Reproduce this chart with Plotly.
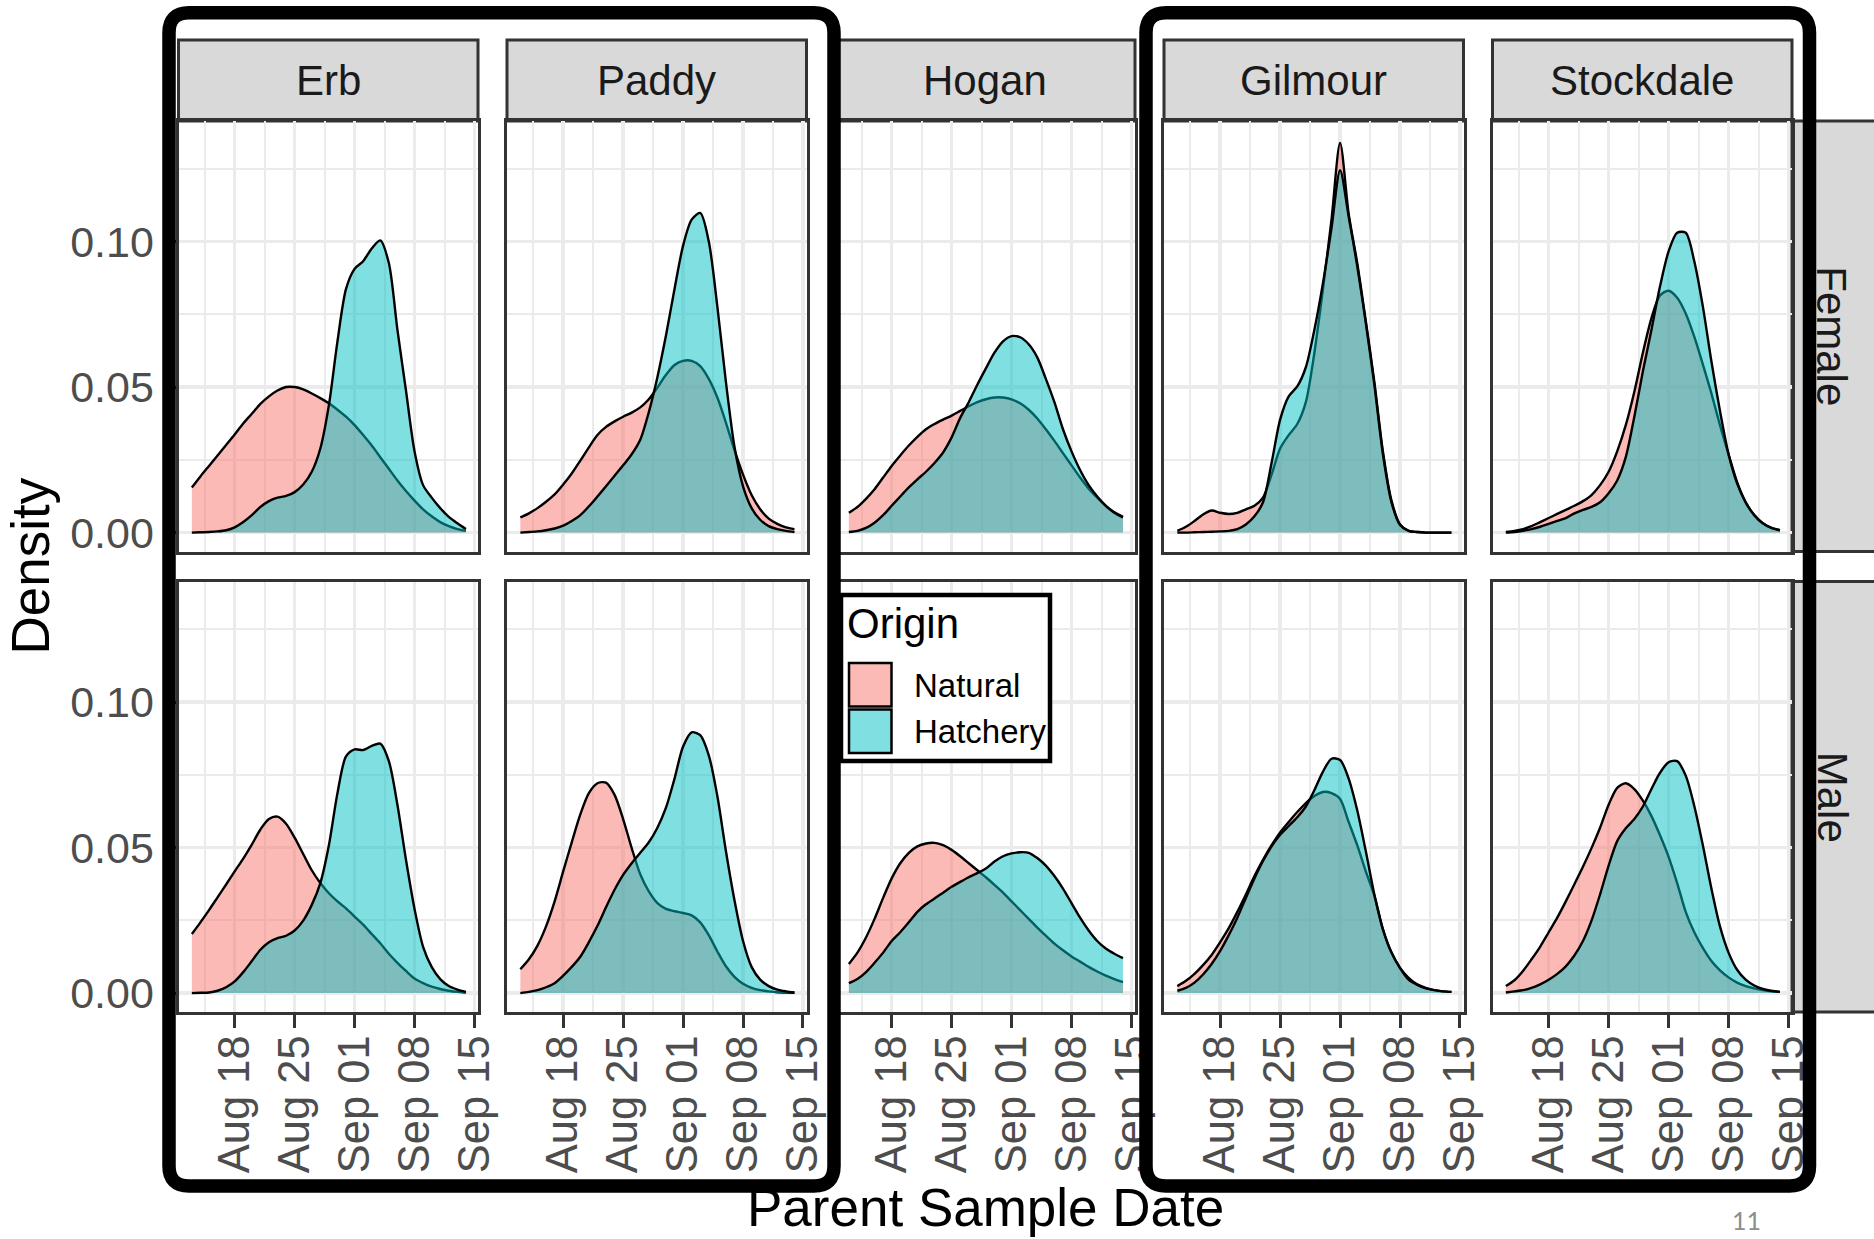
import plotly.graph_objects as go

W, H = 1874, 1239
FONT = "Liberation Sans, Arial, sans-serif"

# ---------------- data ----------------
DATES = ["2018-08-13", "2018-08-14", "2018-08-15", "2018-08-16", "2018-08-17", "2018-08-18",
         "2018-08-19", "2018-08-20", "2018-08-21", "2018-08-22", "2018-08-23", "2018-08-24",
         "2018-08-25", "2018-08-26", "2018-08-27", "2018-08-28", "2018-08-29", "2018-08-30",
         "2018-08-31", "2018-09-01", "2018-09-02", "2018-09-03", "2018-09-04", "2018-09-05",
         "2018-09-06", "2018-09-07", "2018-09-08", "2018-09-09", "2018-09-10", "2018-09-11",
         "2018-09-12", "2018-09-13", "2018-09-14"]

SITES = ["Erb", "Paddy", "Hogan", "Gilmour", "Stockdale"]
SEXES = ["Female", "Male"]
ORIGINS = ["Natural", "Hatchery"]

ERB_F_NAT = [0.0155, 0.0193, 0.0229, 0.0265, 0.0301, 0.0337, 0.0375, 0.0408, 0.0442, 0.0468, 0.0488,
             0.0500, 0.0500, 0.0492, 0.0478, 0.0462, 0.0444, 0.0422, 0.0398, 0.0369, 0.0335, 0.0299,
             0.0259, 0.0219, 0.0179, 0.0143, 0.0110, 0.0080, 0.0056, 0.0036, 0.0022, 0.0012, 0.0006]
ERB_F_HAT = [0.0000, 0.0001, 0.0002, 0.0004, 0.0008, 0.0018, 0.0036, 0.0060, 0.0088, 0.0108, 0.0120,
             0.0126, 0.0139, 0.0165, 0.0209, 0.0289, 0.0438, 0.0657, 0.0837, 0.0906, 0.0932, 0.0976,
             0.1004, 0.0926, 0.0697, 0.0488, 0.0279, 0.0163, 0.0120, 0.0084, 0.0054, 0.0032, 0.0012]
ERB_M_NAT = [0.0203, 0.0243, 0.0285, 0.0329, 0.0373, 0.0418, 0.0462, 0.0510, 0.0562, 0.0598, 0.0606,
             0.0582, 0.0534, 0.0478, 0.0422, 0.0378, 0.0343, 0.0315, 0.0291, 0.0263, 0.0235, 0.0203,
             0.0171, 0.0135, 0.0104, 0.0076, 0.0050, 0.0034, 0.0022, 0.0014, 0.0008, 0.0004, 0.0002]
ERB_M_HAT = [0.0000, 0.0001, 0.0002, 0.0008, 0.0020, 0.0040, 0.0072, 0.0110, 0.0149, 0.0175, 0.0189,
             0.0197, 0.0215, 0.0249, 0.0303, 0.0378, 0.0508, 0.0687, 0.0813, 0.0837, 0.0835, 0.0849,
             0.0857, 0.0797, 0.0647, 0.0458, 0.0289, 0.0159, 0.0090, 0.0048, 0.0024, 0.0012, 0.0004]

PAD_F_NAT = [0.0052, 0.0066, 0.0084, 0.0106, 0.0131, 0.0165, 0.0203, 0.0247, 0.0293, 0.0335, 0.0363,
             0.0382, 0.0398, 0.0412, 0.0430, 0.0458, 0.0498, 0.0542, 0.0576, 0.0590, 0.0590, 0.0572,
             0.0528, 0.0464, 0.0378, 0.0283, 0.0199, 0.0129, 0.0080, 0.0048, 0.0030, 0.0018, 0.0012]
PAD_F_HAT = [0.0000, 0.0002, 0.0004, 0.0008, 0.0014, 0.0024, 0.0040, 0.0060, 0.0090, 0.0124, 0.0159,
             0.0195, 0.0231, 0.0269, 0.0319, 0.0414, 0.0534, 0.0677, 0.0837, 0.0986, 0.1075, 0.1098,
             0.1000, 0.0777, 0.0518, 0.0295, 0.0159, 0.0084, 0.0044, 0.0022, 0.0012, 0.0006, 0.0002]
PAD_M_NAT = [0.0082, 0.0116, 0.0163, 0.0229, 0.0315, 0.0418, 0.0518, 0.0614, 0.0687, 0.0721, 0.0723,
             0.0681, 0.0598, 0.0498, 0.0408, 0.0349, 0.0309, 0.0289, 0.0281, 0.0275, 0.0267, 0.0243,
             0.0199, 0.0143, 0.0092, 0.0056, 0.0032, 0.0018, 0.0010, 0.0006, 0.0003, 0.0002, 0.0001]
PAD_M_HAT = [0.0000, 0.0004, 0.0010, 0.0020, 0.0034, 0.0060, 0.0090, 0.0125, 0.0175, 0.0231, 0.0295,
             0.0355, 0.0406, 0.0446, 0.0482, 0.0518, 0.0568, 0.0637, 0.0737, 0.0847, 0.0896, 0.0886,
             0.0817, 0.0677, 0.0488, 0.0319, 0.0179, 0.0090, 0.0046, 0.0024, 0.0012, 0.0006, 0.0002]

HOG_F_NAT = [0.0068, 0.0088, 0.0116, 0.0149, 0.0189, 0.0229, 0.0265, 0.0299, 0.0329, 0.0355, 0.0373,
             0.0388, 0.0402, 0.0418, 0.0434, 0.0448, 0.0458, 0.0464, 0.0464, 0.0458, 0.0444, 0.0422,
             0.0392, 0.0355, 0.0315, 0.0273, 0.0231, 0.0189, 0.0151, 0.0120, 0.0092, 0.0070, 0.0054]
HOG_F_HAT = [0.0002, 0.0006, 0.0016, 0.0034, 0.0060, 0.0092, 0.0124, 0.0155, 0.0183, 0.0209, 0.0239,
             0.0275, 0.0327, 0.0394, 0.0448, 0.0508, 0.0564, 0.0618, 0.0657, 0.0675, 0.0671, 0.0647,
             0.0602, 0.0528, 0.0448, 0.0355, 0.0279, 0.0215, 0.0163, 0.0124, 0.0092, 0.0068, 0.0052]
HOG_M_NAT = [0.0100, 0.0139, 0.0191, 0.0255, 0.0327, 0.0394, 0.0446, 0.0482, 0.0504, 0.0514, 0.0516,
             0.0508, 0.0492, 0.0470, 0.0446, 0.0422, 0.0398, 0.0372, 0.0345, 0.0315, 0.0285, 0.0255,
             0.0225, 0.0197, 0.0170, 0.0147, 0.0126, 0.0108, 0.0090, 0.0074, 0.0060, 0.0048, 0.0038]
HOG_M_HAT = [0.0034, 0.0048, 0.0072, 0.0104, 0.0139, 0.0179, 0.0209, 0.0243, 0.0279, 0.0305, 0.0325,
             0.0345, 0.0365, 0.0382, 0.0398, 0.0412, 0.0428, 0.0452, 0.0470, 0.0480, 0.0484, 0.0482,
             0.0464, 0.0438, 0.0402, 0.0359, 0.0309, 0.0259, 0.0215, 0.0179, 0.0153, 0.0135, 0.0120]

GIL_F_NAT = [0.0006, 0.0020, 0.0040, 0.0062, 0.0076, 0.0068, 0.0064, 0.0068, 0.0080, 0.0092, 0.0120,
             0.0199, 0.0289, 0.0335, 0.0373, 0.0448, 0.0618, 0.0837, 0.1076, 0.1339, 0.1096, 0.0926,
             0.0727, 0.0518, 0.0279, 0.0110, 0.0028, 0.0006, 0.0002, 0.0000, 0.0000, 0.0000, 0.0000]
GIL_F_HAT = [0.0000, 0.0000, 0.0001, 0.0002, 0.0003, 0.0004, 0.0006, 0.0012, 0.0028, 0.0056, 0.0104,
             0.0239, 0.0388, 0.0468, 0.0502, 0.0568, 0.0697, 0.0857, 0.1046, 0.1245, 0.1086, 0.0916,
             0.0721, 0.0508, 0.0269, 0.0104, 0.0026, 0.0006, 0.0002, 0.0000, 0.0000, 0.0000, 0.0000]
GIL_M_NAT = [0.0024, 0.0042, 0.0066, 0.0096, 0.0131, 0.0175, 0.0223, 0.0279, 0.0339, 0.0402, 0.0458,
             0.0508, 0.0552, 0.0588, 0.0622, 0.0653, 0.0677, 0.0691, 0.0687, 0.0667, 0.0588, 0.0508,
             0.0418, 0.0335, 0.0219, 0.0139, 0.0086, 0.0052, 0.0030, 0.0018, 0.0010, 0.0006, 0.0004]
GIL_M_HAT = [0.0008, 0.0018, 0.0036, 0.0064, 0.0100, 0.0145, 0.0199, 0.0259, 0.0327, 0.0394, 0.0454,
             0.0504, 0.0544, 0.0574, 0.0604, 0.0641, 0.0697, 0.0761, 0.0805, 0.0801, 0.0737, 0.0628,
             0.0488, 0.0339, 0.0219, 0.0139, 0.0086, 0.0046, 0.0028, 0.0016, 0.0010, 0.0006, 0.0004]

STK_F_NAT = [0.0002, 0.0006, 0.0012, 0.0022, 0.0036, 0.0050, 0.0064, 0.0078, 0.0092, 0.0108, 0.0129,
             0.0163, 0.0209, 0.0279, 0.0369, 0.0484, 0.0618, 0.0737, 0.0815, 0.0831, 0.0807, 0.0753,
             0.0673, 0.0578, 0.0478, 0.0369, 0.0269, 0.0173, 0.0104, 0.0060, 0.0032, 0.0016, 0.0008]
STK_F_HAT = [0.0000, 0.0002, 0.0006, 0.0012, 0.0020, 0.0030, 0.0040, 0.0050, 0.0066, 0.0078, 0.0088,
             0.0104, 0.0135, 0.0179, 0.0259, 0.0398, 0.0554, 0.0697, 0.0846, 0.0966, 0.1030, 0.1030,
             0.0932, 0.0777, 0.0588, 0.0418, 0.0269, 0.0169, 0.0104, 0.0060, 0.0032, 0.0016, 0.0008]
STK_M_NAT = [0.0024, 0.0044, 0.0076, 0.0116, 0.0159, 0.0209, 0.0259, 0.0315, 0.0374, 0.0434, 0.0498,
             0.0568, 0.0647, 0.0705, 0.0721, 0.0701, 0.0661, 0.0608, 0.0542, 0.0468, 0.0378, 0.0279,
             0.0209, 0.0155, 0.0110, 0.0078, 0.0054, 0.0036, 0.0024, 0.0016, 0.0010, 0.0006, 0.0004]
STK_M_HAT = [0.0002, 0.0006, 0.0010, 0.0018, 0.0030, 0.0046, 0.0066, 0.0092, 0.0129, 0.0179, 0.0249,
             0.0339, 0.0438, 0.0522, 0.0566, 0.0598, 0.0641, 0.0701, 0.0757, 0.0793, 0.0797, 0.0747,
             0.0643, 0.0508, 0.0359, 0.0229, 0.0139, 0.0080, 0.0046, 0.0026, 0.0014, 0.0008, 0.0004]

DENSITY = {
    "Erb": {"Female": {"Natural": ERB_F_NAT, "Hatchery": ERB_F_HAT},
            "Male": {"Natural": ERB_M_NAT, "Hatchery": ERB_M_HAT}},
    "Paddy": {"Female": {"Natural": PAD_F_NAT, "Hatchery": PAD_F_HAT},
              "Male": {"Natural": PAD_M_NAT, "Hatchery": PAD_M_HAT}},
    "Hogan": {"Female": {"Natural": HOG_F_NAT, "Hatchery": HOG_F_HAT},
              "Male": {"Natural": HOG_M_NAT, "Hatchery": HOG_M_HAT}},
    "Gilmour": {"Female": {"Natural": GIL_F_NAT, "Hatchery": GIL_F_HAT},
                "Male": {"Natural": GIL_M_NAT, "Hatchery": GIL_M_HAT}},
    "Stockdale": {"Female": {"Natural": STK_F_NAT, "Hatchery": STK_F_HAT},
                  "Male": {"Natural": STK_M_NAT, "Hatchery": STK_M_HAT}},
}

X_TICKS = ["2018-08-18", "2018-08-25", "2018-09-01", "2018-09-08", "2018-09-15"]
X_TICK_TEXT = ["Aug 18", "Aug 25", "Sep 01", "Sep 08", "Sep 15"]
X_MINOR = ["2018-08-14 12:00", "2018-08-21 12:00", "2018-08-28 12:00",
           "2018-09-04 12:00", "2018-09-11 12:00"]
X_RANGE = ["2018-08-11 10:34", "2018-09-15 09:50"]
Y_TICKS = [0.0, 0.05, 0.10]
Y_TICK_TEXT = ["0.00", "0.05", "0.10"]
Y_MINOR = [0.025, 0.075, 0.125]
Y_RANGE = [-0.0065, 0.1414]

# ---------------- style ----------------
FILL = {"Natural": "rgba(248,118,109,0.5)", "Hatchery": "rgba(0,191,196,0.5)"}
GRID = "#EBEBEB"
DARK = "#333333"
TICK_TXT = "#4D4D4D"

PANEL_L0, PANEL_STEP, PANEL_W = 178.5, 328.5, 299.5
ROW_TOP = [121.0, 581.5]
PANEL_H = 430.5
STRIP_TOP = 40.0


def px_x(x):
    return x / W


def px_y(y):
    return 1 - y / H


fig = go.Figure()
axes = {}
shapes = []
annotations = []

for r, sex in enumerate(SEXES):
    for c, site in enumerate(SITES):
        k = r * 5 + c + 1
        xa = "x" if k == 1 else f"x{k}"
        ya = "y" if k == 1 else f"y{k}"
        for origin in ORIGINS:
            fig.add_trace(go.Scatter(
                x=DATES, y=DENSITY[site][sex][origin], mode="lines", name=origin,
                line=dict(color="black", width=2.4, shape="spline", smoothing=0.8),
                fill="tozeroy", fillcolor=FILL[origin],
                xaxis=xa, yaxis=ya, showlegend=False, hoverinfo="skip"))
        L = PANEL_L0 + c * PANEL_STEP
        top = ROW_TOP[r]
        bottom_row = r == len(SEXES) - 1
        first_col = c == 0
        axes["xaxis" + ("" if k == 1 else str(k))] = dict(
            domain=[px_x(L), px_x(L + PANEL_W)], anchor=ya, type="date", range=X_RANGE,
            tickmode="array", tickvals=X_TICKS, ticktext=X_TICK_TEXT, tickangle=-90,
            showticklabels=bottom_row, ticks="outside" if bottom_row else "",
            ticklen=13, tickwidth=3, tickcolor=DARK, ticklabelstandoff=-10,
            tickfont=dict(size=43.5, color=TICK_TXT, family=FONT),
            showgrid=True, gridcolor=GRID, gridwidth=3.4,
            minor=dict(tickmode="array", tickvals=X_MINOR, showgrid=True,
                       gridcolor=GRID, gridwidth=2.0, ticks=""),
            showline=True, mirror=True, linecolor=DARK, linewidth=3,
            zeroline=False, automargin=False, fixedrange=True)
        axes["yaxis" + ("" if k == 1 else str(k))] = dict(
            domain=[px_y(top + PANEL_H), px_y(top)], anchor=xa, range=Y_RANGE,
            tickmode="array", tickvals=Y_TICKS, ticktext=Y_TICK_TEXT,
            showticklabels=first_col, ticks="outside" if first_col else "",
            ticklen=12, tickwidth=3, tickcolor=DARK, ticklabelstandoff=1,
            tickfont=dict(size=43, color=TICK_TXT, family=FONT),
            showgrid=True, gridcolor=GRID, gridwidth=3.4,
            minor=dict(tickmode="array", tickvals=Y_MINOR, showgrid=True,
                       gridcolor=GRID, gridwidth=2.0, ticks=""),
            showline=True, mirror=True, linecolor=DARK, linewidth=3,
            zeroline=False, automargin=False, fixedrange=True)

# column strips
for c, site in enumerate(SITES):
    L = PANEL_L0 + c * PANEL_STEP
    shapes.append(dict(type="rect", xref="paper", yref="paper",
                       x0=px_x(L), x1=px_x(L + PANEL_W), y0=px_y(ROW_TOP[0]), y1=px_y(STRIP_TOP),
                       fillcolor="#D9D9D9", line=dict(color=DARK, width=3), layer="below"))
    annotations.append(dict(text=site, xref="paper", yref="paper", showarrow=False,
                            x=px_x(L + PANEL_W / 2), y=px_y((STRIP_TOP + ROW_TOP[0]) / 2),
                            xanchor="center", yanchor="middle",
                            font=dict(size=42, color="#1A1A1A", family=FONT)))

# row strips
RIGHT = PANEL_L0 + 4 * PANEL_STEP + PANEL_W
for r, sex in enumerate(SEXES):
    top = ROW_TOP[r]
    shapes.append(dict(type="rect", xref="paper", yref="paper",
                       x0=px_x(RIGHT), x1=px_x(RIGHT + 90), y0=px_y(top + PANEL_H), y1=px_y(top),
                       fillcolor="#D9D9D9", line=dict(color=DARK, width=3), layer="below"))
    annotations.append(dict(text=sex, xref="paper", yref="paper", showarrow=False,
                            x=px_x(RIGHT + 40), y=px_y(top + PANEL_H / 2), textangle=90,
                            xanchor="center", yanchor="middle",
                            font=dict(size=42, color="#1A1A1A", family=FONT)))

# axis titles
annotations.append(dict(text="Density", xref="paper", yref="paper", showarrow=False,
                        x=px_x(30), y=px_y(566.5), textangle=-90, xanchor="center", yanchor="middle",
                        font=dict(size=53, color="black", family=FONT)))
annotations.append(dict(text="Parent Sample Date", xref="paper", yref="paper", showarrow=False,
                        x=px_x(985.5), y=px_y(1207), xanchor="center", yanchor="middle",
                        font=dict(size=53, color="black", family=FONT)))
annotations.append(dict(text="11", xref="paper", yref="paper", showarrow=False,
                        x=px_x(1746), y=px_y(1220), xanchor="center", yanchor="middle",
                        font=dict(size=25, color="#8C8C8C", family="Lato, sans-serif")))

# legend (inside, over Hogan male panel)
LEG = dict(l=841, t=595, r=1050, b=761)
shapes.append(dict(type="rect", xref="paper", yref="paper",
                   x0=px_x(LEG["l"]), x1=px_x(LEG["r"]), y0=px_y(LEG["b"]), y1=px_y(LEG["t"]),
                   fillcolor="white", line=dict(color="black", width=4.5), layer="above"))
annotations.append(dict(text="Origin", xref="paper", yref="paper", showarrow=False,
                        x=px_x(845), y=px_y(623), xanchor="left", yanchor="middle",
                        font=dict(size=42, color="black", family=FONT)))
KEY_TOPS = [663, 709.5]
for origin, kt in zip(ORIGINS, KEY_TOPS):
    shapes.append(dict(type="rect", xref="paper", yref="paper",
                       x0=px_x(849), x1=px_x(891.5), y0=px_y(kt + 43.5), y1=px_y(kt),
                       fillcolor=FILL[origin], line=dict(color="black", width=2.5), layer="above"))
    annotations.append(dict(text=origin, xref="paper", yref="paper", showarrow=False,
                            x=px_x(912), y=px_y(kt + 22), xanchor="left", yanchor="middle",
                            font=dict(size=33, color="black", family=FONT)))


def rounded_box(l, t, r, b, rad):
    rx, ry = rad / W, rad / H
    L_, R_, T_, B_ = px_x(l), px_x(r), px_y(t), px_y(b)
    return (f"M {L_ + rx},{T_} L {R_ - rx},{T_} Q {R_},{T_} {R_},{T_ - ry} "
            f"L {R_},{B_ + ry} Q {R_},{B_} {R_ - rx},{B_} L {L_ + rx},{B_} "
            f"Q {L_},{B_} {L_},{B_ + ry} L {L_},{T_ - ry} Q {L_},{T_} {L_ + rx},{T_} Z")


for box in [(169, 12.7, 834, 1186), (1146, 12.7, 1809.5, 1186)]:
    shapes.append(dict(type="path", xref="paper", yref="paper", path=rounded_box(*box, 20),
                       line=dict(color="black", width=13.5), fillcolor="rgba(0,0,0,0)", layer="above"))

fig.update_layout(
    template="none", width=W, height=H, margin=dict(l=0, r=0, t=0, b=0),
    paper_bgcolor="white", plot_bgcolor="white", showlegend=False,
    font=dict(family=FONT), shapes=shapes, annotations=annotations, **axes)

fig.write_html("out.html", config={"displayModeBar": False, "staticPlot": True},
               post_script="document.body.style.margin='0';document.body.style.overflow='hidden';")
